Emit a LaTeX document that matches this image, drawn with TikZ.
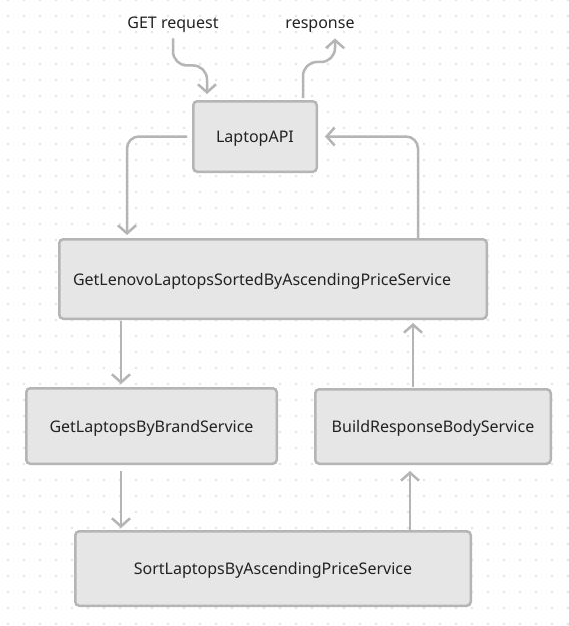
\documentclass[tikz,border=0pt]{standalone}
\usepackage{fontspec}
\setmainfont{Noto Sans}
\usetikzlibrary{arrows.meta, positioning}

\definecolor{boxfill}{HTML}{E6E6E6}
\definecolor{boxline}{HTML}{B5B5B5}
\definecolor{dotgray}{HTML}{E3E3E3}
\definecolor{textgray}{HTML}{222222}

\tikzset{
    service/.style={draw=boxline, fill=boxfill, line width=2.5pt, rounded corners=4pt,
        text=textgray, font=\fontsize{16}{18}\selectfont, inner sep=0pt,
        text height=12.5pt, text depth=0pt},
    label/.style={text=textgray, font=\fontsize{16}{18}\selectfont, inner sep=0pt,
        text height=11pt, text depth=3.5pt},
    flow/.style={draw=boxline, line width=2.5pt, rounded corners=12pt,
        arrows = {-Straight Barb[length=8pt, width=18pt]}}
}

\begin{document}
\begin{tikzpicture}[x=1pt, y=-1pt]
    % Background
    \useasboundingbox (0,0) rectangle (569,626);
    \fill[white] (0,0) rectangle (569,626);
    \foreach \i in {0,...,35}
        \foreach \j in {0,...,39}
            \fill[dotgray] (8+16*\i-0.8, 16*\j-0.8) rectangle ++(1.6,1.6);

    % Nodes
    \node[service, minimum width=123.5pt, minimum height=70.5pt] (api) at (255,136.5) {LaptopAPI};
    \node[service, minimum width=427.5pt, minimum height=79.5pt, text width=400pt, align=left] (main) at (273,279) {GetLenovoLaptopsSortedByAscendingPriceService};
    \node[service, minimum width=250.5pt, minimum height=75.5pt] (brand) at (151.5,426) {GetLaptopsByBrandService};
    \node[service, minimum width=235.5pt, minimum height=74.5pt] (build) at (433,426.5) {BuildResponseBodyService};
    \node[service, minimum width=395.5pt, minimum height=74.5pt] (sort) at (273,568.5) {SortLaptopsByAscendingPriceService};
    \node[label] (get) at (173,25) {GET request};
    \node[label] (resp) at (320,25) {response};

    % Connections
    \draw[flow, rounded corners=14pt] ([yshift=-6pt]get.south) -- ++(0,27) -| ([xshift=-48pt, yshift=6pt]api.north);
    \draw[flow, rounded corners=14pt] ([xshift=48pt, yshift=2pt]api.north) -- ++(0,-36) -| ([xshift=15pt, yshift=-6pt]resp.south);
    \draw[flow] ([xshift=-5pt]api.west) -| ([xshift=69pt, yshift=3pt]main.north west);
    \draw[flow] ([xshift=360pt, yshift=-1pt]main.north west) |- ([xshift=7pt]api.east);
    \draw[flow] ([xshift=-30.5pt, yshift=-1pt]brand.north |- main.south) -- ([xshift=-30.5pt, yshift=3pt]brand.north);
    \draw[flow] ([xshift=-30.5pt, yshift=-6pt]brand.south) -- ([xshift=-30.5pt, yshift=2pt]brand.south |- sort.north);
    \draw[flow] ([xshift=-23pt, yshift=-1pt]build.north |- sort.north) -- ([xshift=-23pt, yshift=-6pt]build.south);
    \draw[flow] ([xshift=-20pt, yshift=1pt]build.north) -- ([xshift=-20pt, yshift=-3pt]build.north |- main.south);
\end{tikzpicture}
\end{document}
